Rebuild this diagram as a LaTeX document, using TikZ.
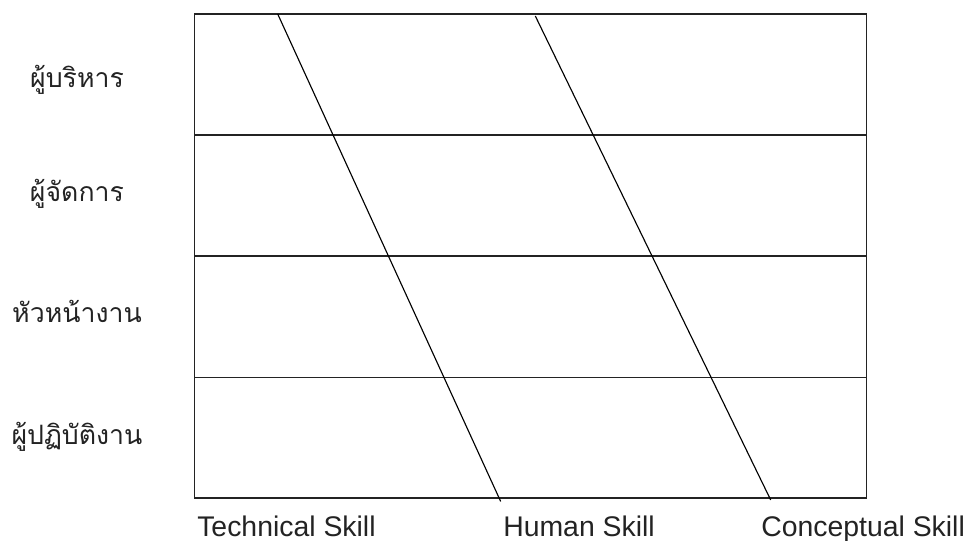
\documentclass[tikz,border=0pt]{standalone}
\usepackage{fontspec}
\setmainfont{Liberation Sans}
\newfontfamily\thaifont[Script=Thai]{Loma}
\usetikzlibrary{positioning}
\definecolor{ink}{RGB}{35,35,35}

\begin{document}
\begin{tikzpicture}[x=0.75pt,y=-0.75pt,
  frame/.style={line width=1.1pt,draw=ink},
  skill/.style={line width=0.85pt,draw=black},
  rank/.style={font=\thaifont\fontsize{20}{24}\selectfont,text=ink,anchor=base,inner sep=0pt},
  axis/.style={font=\fontsize{21.3}{25}\selectfont,text=ink,anchor=base west,inner sep=0pt}]
\useasboundingbox (0,0) rectangle (967,541);
% frame and level rows
\coordinate (nw) at (194.7,14);
\coordinate (se) at (866.7,498);
\draw[frame] (nw) rectangle (se);
\foreach \y in {135,256,377.5}
  \draw[frame] (nw|-0,\y) -- (se|-0,\y);
% skill boundaries
\coordinate (t1) at (277.7,14);
\coordinate (b1) at (500.7,501.5);
\coordinate (t2) at (535.3,16);
\coordinate (b2) at (770.7,500);
\draw[skill] (t1) -- (b1);
\draw[skill] (t2) -- (b2);
% levels
\node[rank] (exec) at (77,87.7) {ผู้บริหาร};
\node[rank] (mgr) at (77,201.7) {ผู้จัดการ};
\node[rank] (sup) at (77,322.3) {หัวหน้างาน};
\node[rank] (op) at (77,444.3) {ผู้ปฏิบัติงาน};
% skills
\node[axis] (tech) at (197,536.7) {Technical Skill};
\node[axis] (human) at (503,536.7) {Human Skill};
\node[axis] (concept) at (761,536.7) {Conceptual Skill};
\end{tikzpicture}
\end{document}
